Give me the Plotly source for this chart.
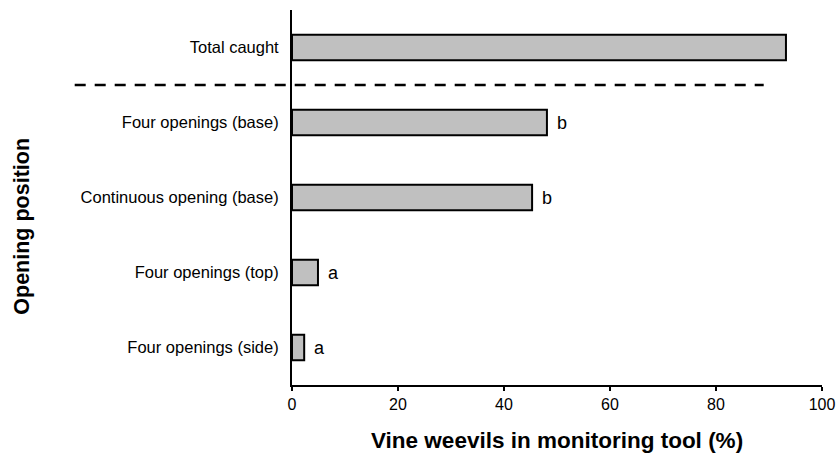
import plotly.graph_objects as go

# Data (bottom to top)
categories = ["Four openings (side)", "Four openings (top)", "Continuous opening (base)",
              "Four openings (base)", "Total caught"]
values = [2.3, 4.9, 45.3, 48.1, 93.2]
letters = ["a", "a", "b", "b", ""]
x_ticks = [0, 20, 40, 60, 80, 100]

FONT = "Liberation Sans, Arial, sans-serif"

fig = go.Figure()
fig.add_trace(go.Bar(
    x=values, y=categories, orientation="h", width=0.34,
    marker=dict(color="#c0c0c0", line=dict(color="black", width=2)),
    hoverinfo="skip",
))

for cat, v, lt in zip(categories, values, letters):
    if lt:
        fig.add_annotation(x=v, y=cat, xref="x", yref="y", text=lt, showarrow=False,
                           xanchor="left", yanchor="middle", xshift=8,
                           font=dict(family=FONT, size=18, color="black"))

# dashed separator between individual openings and total
fig.add_shape(type="line", xref="paper", yref="paper", x0=-0.41, x1=0.89, y0=0.8, y1=0.8,
              line=dict(color="black", width=2.5, dash="11px,9px"), layer="above")

fig.add_annotation(text="<b>Opening position</b>", xref="paper", yref="paper",
                   x=-0.51, y=0.424, textangle=-90, showarrow=False,
                   xanchor="center", yanchor="middle",
                   font=dict(family=FONT, size=21.5, color="black"))
fig.add_annotation(text="<b>Vine weevils in monitoring tool (%)</b>", xref="paper", yref="paper",
                   x=0.5, y=-0.149, showarrow=False, xanchor="center", yanchor="middle",
                   font=dict(family=FONT, size=22.5, color="black"))

fig.update_layout(
    width=837, height=454,
    margin=dict(l=292, r=15, t=10, b=69),
    plot_bgcolor="white", paper_bgcolor="white",
    showlegend=False,
    font=dict(family=FONT, size=16, color="black"),
    xaxis=dict(range=[0, 100], tickvals=x_ticks, ticks="outside", ticklen=4, tickwidth=2,
               tickcolor="black", showline=True, linecolor="black", linewidth=2,
               showgrid=False, zeroline=False, fixedrange=True, automargin=False,
               tickfont=dict(family=FONT, size=16, color="black")),
    yaxis=dict(categoryorder="array", categoryarray=categories, range=[-0.5, 4.5],
               showline=True, linecolor="black", linewidth=2, ticks="",
               ticklabelstandoff=8, showgrid=False, zeroline=False, fixedrange=True,
               automargin=False,
               tickfont=dict(family=FONT, size=16.5, color="black")),
)

fig.write_html("out.html")
